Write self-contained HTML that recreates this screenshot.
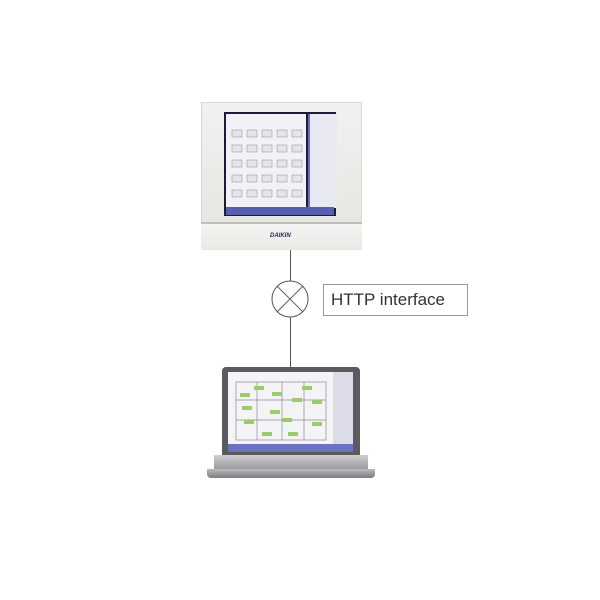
<!DOCTYPE html>
<html><head><style>
body{margin:0;width:600px;height:600px;background:#fff;position:relative;overflow:hidden;font-family:"Liberation Sans",sans-serif}
.a{position:absolute}
</style></head><body>
<div class="a" style="left:201px;top:102px;width:161px;height:148px;background:linear-gradient(#f1f1ef,#e4e4e0);border:1px solid #d8d8d4;box-sizing:border-box"></div>
<div class="a" style="left:201px;top:222px;width:161px;height:2px;background:#bfbfb9"></div>
<div class="a" style="left:201px;top:224px;width:161px;height:26px;background:linear-gradient(#f4f4f2,#e8e8e4)"></div>
<div class="a" style="left:270px;top:233px;font-size:6px;font-weight:bold;color:#1a2a6a;font-style:italic">DAIKIN</div>
<div class="a" style="left:224px;top:112px;width:112px;height:104px;background:#1c1c3a"></div>
<div class="a" style="left:226px;top:114px;width:80px;height:94px;background:#f2f2f6"></div>
<div class="a" style="left:308px;top:114px;width:27px;height:94px;background:#e9e9f2;border-left:2px solid #6670b8"></div>
<div class="a" style="left:226px;top:207px;width:108px;height:8px;background:#5560b0"></div>
<svg class="a" style="left:230px;top:128px" width="75" height="78">
<g fill="#e4e4ea" stroke="#9a9aaa" stroke-width=".6">
<rect x="2" y="2" width="10" height="7"/><rect x="17" y="2" width="10" height="7"/><rect x="32" y="2" width="10" height="7"/><rect x="47" y="2" width="10" height="7"/><rect x="62" y="2" width="10" height="7"/>
<rect x="2" y="17" width="10" height="7"/><rect x="17" y="17" width="10" height="7"/><rect x="32" y="17" width="10" height="7"/><rect x="47" y="17" width="10" height="7"/><rect x="62" y="17" width="10" height="7"/>
<rect x="2" y="32" width="10" height="7"/><rect x="17" y="32" width="10" height="7"/><rect x="32" y="32" width="10" height="7"/><rect x="47" y="32" width="10" height="7"/><rect x="62" y="32" width="10" height="7"/>
<rect x="2" y="47" width="10" height="7"/><rect x="17" y="47" width="10" height="7"/><rect x="32" y="47" width="10" height="7"/><rect x="47" y="47" width="10" height="7"/><rect x="62" y="47" width="10" height="7"/>
<rect x="2" y="62" width="10" height="7"/><rect x="17" y="62" width="10" height="7"/><rect x="32" y="62" width="10" height="7"/><rect x="47" y="62" width="10" height="7"/><rect x="62" y="62" width="10" height="7"/>
</g></svg>
<div class="a" style="left:290px;top:250px;width:1px;height:125px;background:#555"></div>
<svg class="a" style="left:270px;top:279px" width="40" height="40">
<circle cx="20" cy="20" r="18" fill="#fff" stroke="#555" stroke-width="1"/>
<line x1="7.3" y1="7.3" x2="32.7" y2="32.7" stroke="#555"/><line x1="32.7" y1="7.3" x2="7.3" y2="32.7" stroke="#555"/>
</svg>
<div class="a" style="left:323px;top:284px;width:145px;height:32px;border:1px solid #999;box-sizing:border-box;font-size:17px;color:#333;line-height:30px;padding-left:7px">HTTP interface</div>
<div class="a" style="left:222px;top:367px;width:138px;height:90px;background:#5a5a60;border-radius:4px 4px 0 0"></div>
<div class="a" style="left:228px;top:372px;width:125px;height:80px;background:#f4f4f6"></div>
<svg class="a" style="left:232px;top:380px" width="98" height="64">
<g stroke="#8a8a94" stroke-width=".7" fill="none">
<rect x="4" y="2" width="90" height="58"/><line x1="4" y1="20" x2="94" y2="20"/><line x1="4" y1="40" x2="94" y2="40"/>
<line x1="25" y1="2" x2="25" y2="60"/><line x1="50" y1="2" x2="50" y2="60"/><line x1="72" y1="2" x2="72" y2="60"/>
</g>
<g fill="#9ccc6a">
<rect x="22" y="6" width="10" height="4"/><rect x="8" y="13" width="10" height="4"/><rect x="40" y="12" width="10" height="4"/><rect x="70" y="6" width="10" height="4"/>
<rect x="60" y="18" width="10" height="4"/><rect x="10" y="26" width="10" height="4"/><rect x="38" y="30" width="10" height="4"/><rect x="80" y="20" width="10" height="4"/>
<rect x="12" y="40" width="10" height="4"/><rect x="50" y="38" width="10" height="4"/><rect x="80" y="42" width="10" height="4"/><rect x="30" y="52" width="10" height="4"/><rect x="56" y="52" width="10" height="4"/>
</g></svg>
<div class="a" style="left:333px;top:372px;width:20px;height:72px;background:#dcdce8"></div>
<div class="a" style="left:228px;top:444px;width:125px;height:8px;background:#6a74c0"></div>
<div class="a" style="left:214px;top:455px;width:154px;height:14px;background:linear-gradient(#cfcfd2,#9b9ba0)"></div>
<div class="a" style="left:207px;top:469px;width:168px;height:9px;background:linear-gradient(#bbb,#7c7c80);border-radius:0 0 4px 4px"></div>
</body></html>
